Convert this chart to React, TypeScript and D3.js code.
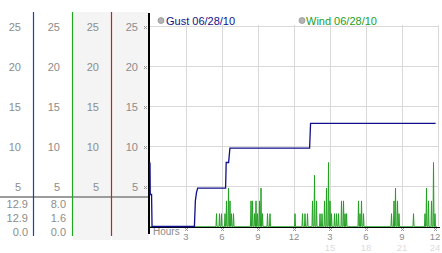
import React from "react";
import * as d3 from "d3";

const W = 442;
const H = 253;

// Y axis ticks (shared by left columns and plot)
const yTicks = [5, 10, 15, 20, 25];
// X axis (hours of day)
const xTickHours = [3, 6, 9, 12, 15, 18, 21, 24];
const xTickLabels = ["3", "6", "9", "12", "3", "6", "9", "12"];
const xTickLabels24 = ["", "", "", "", "15", "18", "21", "24"];

// Left panel columns
const columnColors = ["#1c3cc0", "#20a820", "#c82020", "#000000"];
const columnShaded = [false, false, true, true];
const gustStats = ["12.9", "12.9", "0.0"];
const windStats = ["8.0", "1.6", "0.0"];

// Gust series (hour, mph)
const gustHours = [0, 0.02, 0.13, 0.17, 3.7, 3.78, 3.87, 3.97, 6.3, 6.35, 6.55, 6.66, 13.3, 13.38, 23.8];
const gustValues = [8.0, 4.0, 4.0, 0, 0, 3.2, 4.2, 4.8, 4.8, 8.0, 8.0, 9.8, 9.8, 12.9, 12.9];

// Wind readings (non-zero only; other readings are 0)
const windHours = [
  5.56, 5.78, 5.97,
  6.25, 6.39, 6.53, 6.67, 6.81, 6.94,
  8.42, 8.56, 8.69, 8.83, 8.97, 9.11, 9.25, 9.39,
  9.78, 10.0,
  12.08, 12.69, 12.92, 13.11,
  13.54, 13.69, 13.86,
  14.17, 14.33, 14.53, 14.72, 14.86, 15.0, 15.14,
  15.38, 15.54, 15.69, 15.97, 16.11, 16.25, 16.39,
  17.36, 17.5, 17.64, 17.78,
  20.14, 20.33, 20.47, 20.61, 20.75,
  21.94,
  22.92, 23.06, 23.19, 23.47, 23.61, 23.75,
];
const windValues = [
  1.6, 1.6, 1.6,
  1.6, 3.2, 4.8, 3.2, 1.6, 1.6,
  3.2, 3.2, 1.6, 3.2, 1.6, 3.2, 4.8, 1.6,
  1.6, 1.6,
  1.6, 1.6, 1.6, 1.6,
  3.2, 6.4, 3.2,
  1.6, 1.6, 3.2, 4.8, 8.0, 3.2, 1.6,
  1.6, 1.6, 1.6, 3.2, 3.2, 1.6, 1.6,
  3.2, 1.6, 3.2, 1.6,
  1.6, 3.2, 4.8, 3.2, 1.6,
  1.6,
  1.6, 4.8, 3.2, 3.2, 8.0, 1.6,
];

const FONT = "'Liberation Sans', Arial, sans-serif";

function Dots({ cx, cy }: { cx: number; cy: number }) {
  const offs = [[-1, -1], [1, -1], [0, 0], [-1, 1], [1, 1]];
  return (
    <g>
      {offs.map(([dx, dy], i) => (
        <rect key={i} x={cx + dx} y={cy + dy} width={1} height={1} fill="#9a9a9a" />
      ))}
    </g>
  );
}

export default function App() {
  const x = d3.scaleLinear().domain([0, 24]).range([150, 438]);
  const y = d3.scaleLinear().domain([0, 25]).range([226.5, 26.5]);

  // wind readings on a 2.5-minute grid
  const steps = 24 * 24;
  const readings = new Map<number, number>();
  windHours.forEach((h, i) => readings.set(Math.round(h * 24), windValues[i]));
  const windSeries: [number, number][] = [];
  for (let i = 0; i <= steps - 3; i++) windSeries.push([i / 24, readings.get(i) ?? 0]);

  const gustSeries: [number, number][] = gustHours.map((h, i) => [h, gustValues[i]]);
  const line = d3.line<[number, number]>().x((d) => x(d[0])).y((d) => y(d[1]));

  const colRight = [33, 72, 111, 149];
  const colLeft = [0, 33, 72, 111];
  const labelRight = [21, 60, 99, 138];

  return (
    <svg width={W} height={H} style={{ position: "absolute", left: 0, top: 0, background: "#fff" }} fontFamily={FONT}>
      {/* left panel backgrounds */}
      {colLeft.map((l, i) =>
        columnShaded[i] ? (
          <rect key={i} x={l + 1} y={12} width={colRight[i] - l - 1} height={228} fill="#f4f4f4" />
        ) : null
      )}
      {/* left y labels */}
      {labelRight.map((r, ci) =>
        yTicks.map((t) => (
          <text key={ci + "-" + t} x={r} y={y(t) + 4} textAnchor="end" fontSize={11} fill="#8c8c8c">
            {t}
          </text>
        ))
      )}
      {/* separator */}
      <rect x={0} y={196} width={149} height={2} fill="#9c9c9c" />
      {/* stats */}
      {gustStats.map((s, i) => (
        <text key={"g" + i} x={28} y={208 + i * 14} textAnchor="end" fontSize={11} fill="#8c8c8c">
          {s}
        </text>
      ))}
      {windStats.map((s, i) => (
        <text key={"w" + i} x={66} y={208 + i * 14} textAnchor="end" fontSize={11} fill="#8c8c8c">
          {s}
        </text>
      ))}
      {/* column divider lines */}
      {colRight.slice(0, 3).map((r, i) => (
        <line key={i} x1={r + 0.5} x2={r + 0.5} y1={12} y2={236} stroke={columnColors[i]} strokeWidth={1.2} />
      ))}

      {/* plot gridlines */}
      {yTicks.map((t) => (
        <line key={t} x1={150} x2={438} y1={y(t)} y2={y(t)} stroke="#d9d9d9" />
      ))}
      {xTickHours.map((h) => (
        <line key={h} x1={Math.round(x(h)) + 0.5} x2={Math.round(x(h)) + 0.5} y1={25} y2={226} stroke="#d9d9d9" />
      ))}
      {/* y tick marks */}
      {yTicks.map((t) => (
        <Dots key={t} cx={145} cy={Math.round(y(t))} />
      ))}
      {/* x tick marks and labels */}
      {xTickHours.map((h, i) => {
        const cx = Math.min(Math.round(x(h)), 435);
        return (
          <g key={h}>
            <Dots cx={cx} cy={229} />
            <text x={cx} y={240} textAnchor="middle" fontSize={9.5} fill="#8c8c8c">
              {xTickLabels[i]}
            </text>
            {xTickLabels24[i] ? (
              <text x={cx} y={250.5} textAnchor="middle" fontSize={9.5} fill="#dcdcdc">
                {xTickLabels24[i]}
              </text>
            ) : null}
          </g>
        );
      })}
      <text x={153} y={235} fontSize={10} fill="#8c8c8c">Hours</text>

      {/* axes */}
      <rect x={148} y={13} width={2} height={221} fill="#000" />
      <line x1={150} x2={440} y1={227.5} y2={227.5} stroke="#000" />

      {/* series */}
      <path d={line(windSeries) ?? ""} fill="none" stroke="#22a022" strokeWidth={1} />
      <path d={line(gustSeries) ?? ""} fill="none" stroke="#10108a" strokeWidth={1.3} />

      {/* legend */}
      <circle cx={161} cy={20.5} r={3} fill="#b4b4b4" stroke="#8c8c8c" strokeWidth={0.7} />
      <text x={166} y={24.5} fontSize={11} fill="#10108a">Gust 06/28/10</text>
      <circle cx={302} cy={20.5} r={3} fill="#b4b4b4" stroke="#8c8c8c" strokeWidth={0.7} />
      <text x={306} y={24.5} fontSize={11} fill="#22a022">Wind 06/28/10</text>
    </svg>
  );
}
